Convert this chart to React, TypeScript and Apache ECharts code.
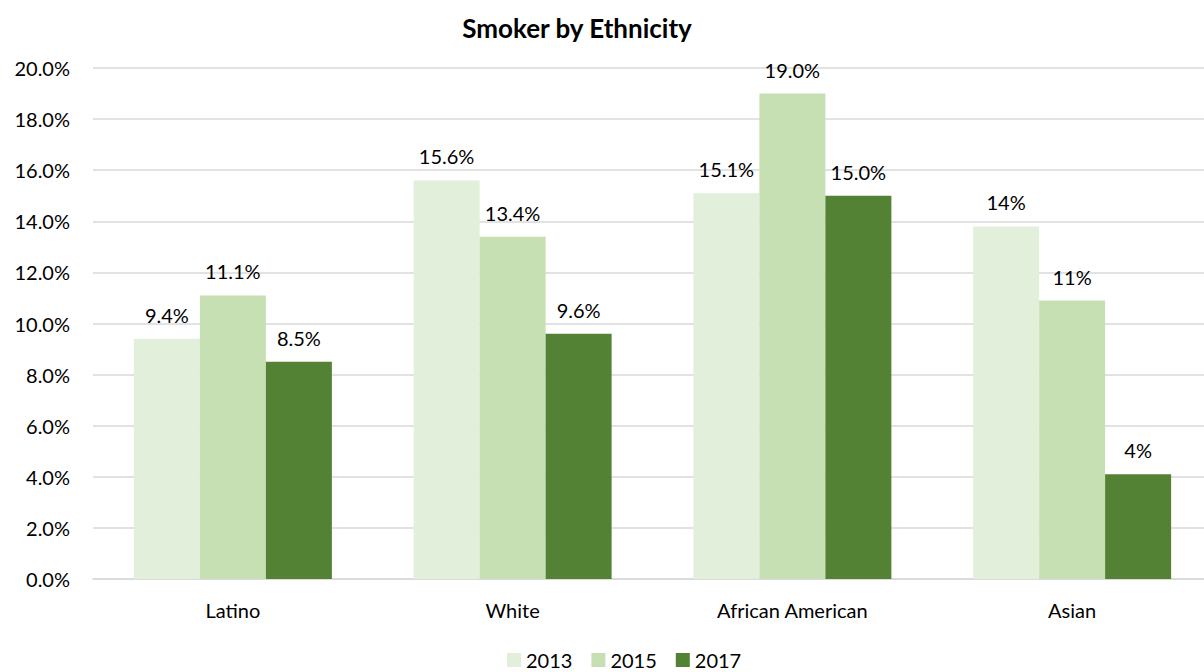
import React, { useEffect, useRef } from "react";
import * as echarts from "echarts";

const categories = ["Latino", "White", "African American", "Asian"];
const years = ["2013", "2015", "2017"];
const values2013 = [9.4, 15.6, 15.1, 13.8];
const values2015 = [11.1, 13.4, 19.0, 10.9];
const values2017 = [8.5, 9.6, 15.0, 4.1];
const labels2013 = ["9.4%", "15.6%", "15.1%", "14%"];
const labels2015 = ["11.1%", "13.4%", "19.0%", "11%"];
const labels2017 = ["8.5%", "9.6%", "15.0%", "4%"];
const colors = ["#E2EFDA", "#C6E0B4", "#548235"];
const yTicks = [0, 2, 4, 6, 8, 10, 12, 14, 16, 18, 20];

const FONT = "Lato";

export default function App() {
  const ref = useRef<HTMLDivElement>(null);
  useEffect(() => {
    if (!ref.current) return;
    const chart = echarts.init(ref.current, undefined, { renderer: "svg" });
    const seriesVals = [values2013, values2015, values2017];
    const seriesLabels = [labels2013, labels2015, labels2017];
    chart.setOption({
      animation: false,
      textStyle: { fontFamily: FONT },
      title: {
        text: "Smoker by Ethnicity",
        left: 572,
        textAlign: "center",
        top: 10,
        textStyle: { fontFamily: FONT, fontWeight: "bold", fontSize: 26, color: "#000" },
      },
      legend: {
        data: years,
        left: 502,
        top: 645,
        itemWidth: 14,
        itemHeight: 14,
        itemGap: 19,
        icon: "rect",
        textStyle: { fontFamily: FONT, fontSize: 20, color: "#000" },
      },
      grid: { left: 93, right: 0, top: 68, bottom: 672 - 579, containLabel: false },
      xAxis: {
        type: "category",
        data: categories,
        axisTick: { show: false },
        axisLine: { lineStyle: { color: "#d9d9d9", width: 1.5 } },
        axisLabel: { margin: 21, fontFamily: FONT, fontSize: 20, color: "#000" },
      },
      yAxis: {
        type: "value",
        min: yTicks[0],
        max: yTicks[yTicks.length - 1],
        interval: 2,
        axisLine: { show: false },
        axisTick: { show: false },
        splitLine: { lineStyle: { color: "#d9d9d9", width: 1.5 } },
        axisLabel: {
          margin: 23,
          fontFamily: FONT,
          fontSize: 20,
          color: "#000",
          formatter: (v: number) => v.toFixed(1) + "%",
        },
      },
      series: years.map((y, i) => ({
        name: y,
        type: "bar",
        barWidth: 66,
        barGap: "0%",
        itemStyle: { color: colors[i] },
        label: {
          show: true,
          position: "top",
          distance: 14,
          fontFamily: FONT,
          fontSize: 20,
          color: "#000",
          formatter: (p: any) => seriesLabels[i][p.dataIndex],
        },
        data: seriesVals[i],
      })),
    });
    return () => chart.dispose();
  }, []);
  return (
    <div
      ref={ref}
      style={{ position: "fixed", left: 0, top: 0, width: 1212, height: 672, background: "#fff" }}
    />
  );
}
